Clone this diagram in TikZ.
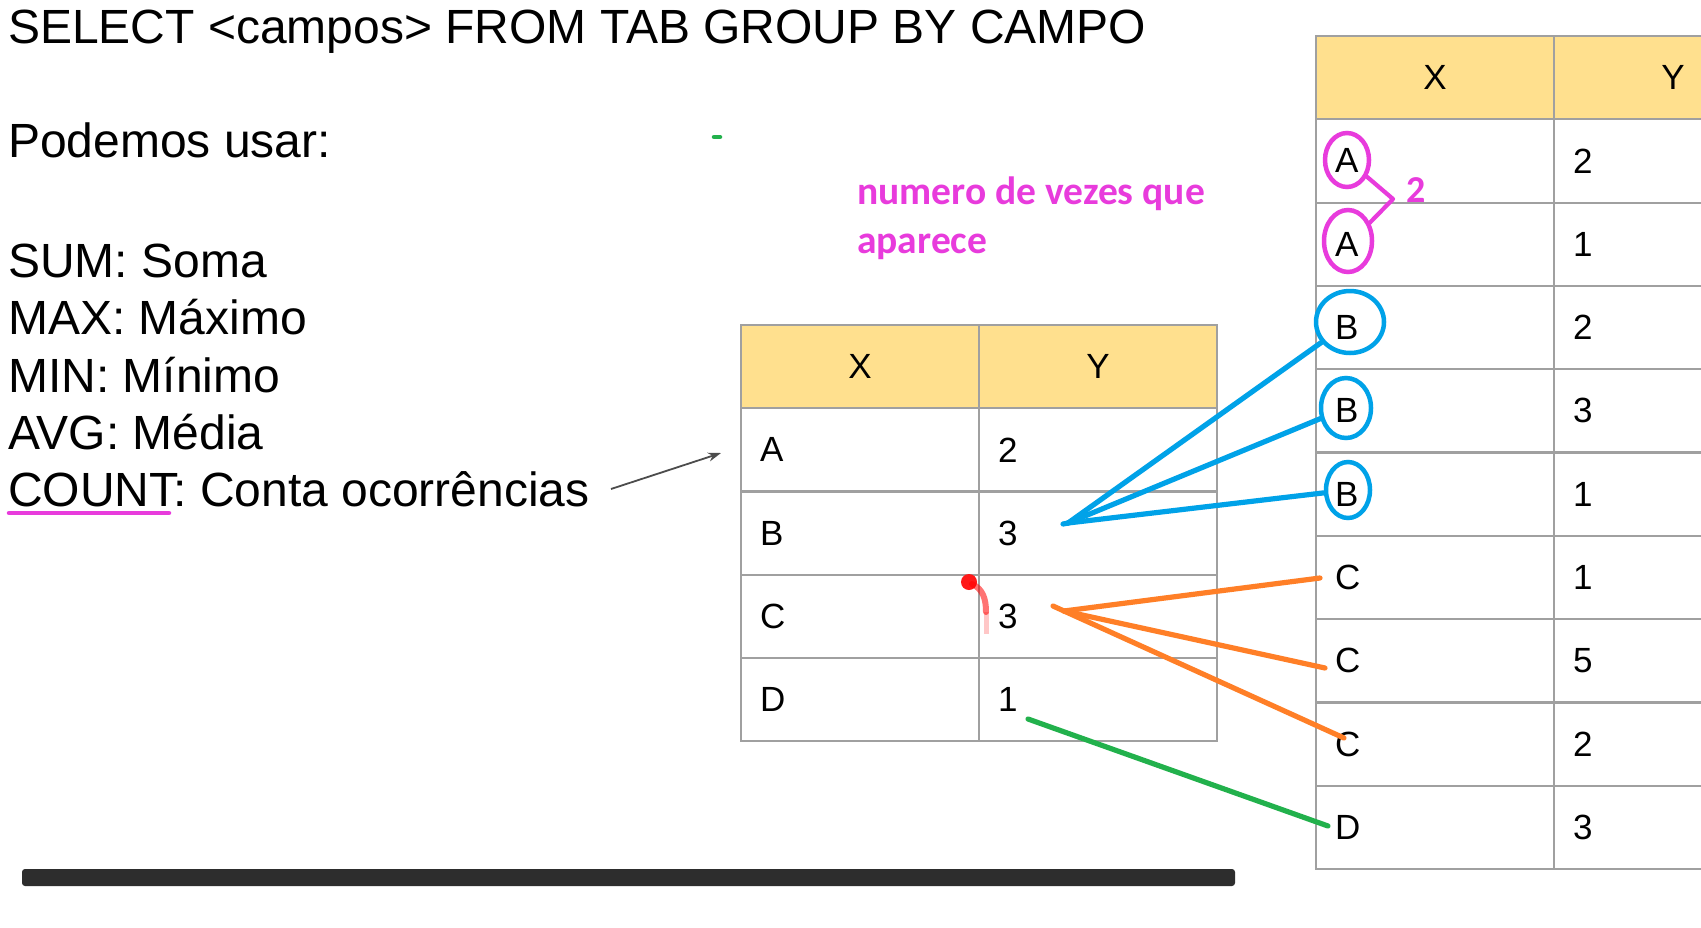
\documentclass[tikz,border=0pt]{standalone}
\usepackage{fontspec}
\setmainfont{Liberation Sans}
\newfontfamily\handfont{Carlito}
\usetikzlibrary{shapes.geometric,arrows.meta}

\definecolor{hdr}{HTML}{FFE08E}
\definecolor{gridgray}{HTML}{A0A0A0}
\definecolor{pblue}{HTML}{00A2E8}
\definecolor{porange}{HTML}{FF7F27}
\definecolor{pgreen}{HTML}{22B14C}
\definecolor{ppink}{HTML}{E83BDC}
\definecolor{barfill}{HTML}{2D2D2D}

\begin{document}
\begin{tikzpicture}[x=1pt,y=-1pt,
  bigtext/.style={anchor=base west, inner sep=0, font=\fontsize{48}{57}\selectfont},
  celltext/.style={anchor=west, inner sep=0, font=\fontsize{35}{40}\selectfont},
  headtext/.style={inner sep=0, font=\fontsize{35}{40}\selectfont},
  notetext/.style={anchor=base west, inner sep=0, text=ppink, font=\handfont\bfseries\fontsize{39.5}{46}\selectfont},
  gridline/.style={draw=gridgray, line width=2.2, line cap=rect},
  penline/.style={line width=5.2, line cap=round, line join=round},
  ring/.style={ellipse, draw, line width=4.5, inner sep=0},
]
\clip (0,0) rectangle (1701,927);
\fill[white] (0,0) rectangle (1701,927);

% query and list of aggregate functions
\node[bigtext] (title) at (8,43) {SELECT <campos> FROM TAB GROUP BY CAMPO};
\node[bigtext] (intro) at (8,157) {Podemos usar:};
\node[bigtext] (sum) at (8,277) {SUM: Soma};
\node[bigtext] (max) at (8,334.5) {MAX: Máximo};
\node[bigtext] (min) at (8,392) {MIN: Mínimo};
\node[bigtext] (avg) at (8,449.5) {AVG: Média};
\node[bigtext] (count) at (8,506) {COUNT: Conta ocorrências};
\draw[ppink, line width=4.5, line cap=round] (9,513) -- (169,513);

% arrow towards the grouped table
\coordinate (arrTail) at (611,489);
\coordinate (arrHead) at (721,453);
\draw[draw=black!70, line width=1.8, -{Stealth[length=13,width=9]}] (arrTail) -- (arrHead);

% grouped table
\fill[hdr] (741,325) rectangle (1217,408.2);
\foreach \k in {0,...,5} \draw[gridline] (741,325+83.2*\k) -- (1217,325+83.2*\k);
\foreach \x in {741,979,1217} \draw[gridline] (\x,325) -- (\x,741);
\node[headtext] (lX) at (860,366.6) {X};
\node[headtext] (lY) at (1098,366.6) {Y};
\foreach \k/\a/\b in {1/A/2,2/B/3,3/C/3,4/D/1} {
  \node[celltext] (l\k) at (760,366.6+83.2*\k) {\a};
  \node[celltext] (lv\k) at (998,366.6+83.2*\k) {\b};
}

% source table
\fill[hdr] (1316,36) rectangle (1800,119.3);
\foreach \k in {0,...,10} \draw[gridline] (1316,36+83.3*\k) -- (1800,36+83.3*\k);
\foreach \x in {1316,1554,1792} \draw[gridline] (\x,36) -- (\x,869);
\node[headtext] (rX) at (1435,77.6) {X};
\node[headtext] (rY) at (1673,77.6) {Y};
\foreach \k/\a/\b in {1/A/2,2/A/1,3/B/2,4/B/3,5/B/1,6/C/1,7/C/5,8/C/2,9/D/3} {
  \node[celltext] (r\k) at (1335,77.6+83.3*\k) {\a};
  \node[celltext] (rv\k) at (1573,77.6+83.3*\k) {\b};
}

% annotation
\node[notetext] (note1) at (857,204) {numero de vezes que};
\node[notetext] (note2) at (857,253) {aparece};

% pink marks on the A rows
\node[ring, draw=ppink, minimum width=44, minimum height=54] (eA1) at (1347,160) {};
\node[ring, draw=ppink, minimum width=48, minimum height=62] (eA2) at (1348,241) {};
\coordinate (brk) at (1393,199);
\draw[penline, ppink, line width=4.2] (eA1.-40) -- (brk) -- (eA2.40);
\node[inner sep=0, text=ppink, font=\handfont\bfseries\fontsize{38}{40}\selectfont] (cnt) at (1416,190) {2};

% blue marks on the B rows
\node[ring, draw=pblue, minimum width=68, minimum height=62] (eB1) at (1350,322) {};
\node[ring, draw=pblue, minimum width=50, minimum height=60] (eB2) at (1346,408) {};
\node[ring, draw=pblue, minimum width=44, minimum height=56] (eB3) at (1348,490) {};
\coordinate (bHub) at (1068,523);
\coordinate (bTail) at (1063,524);
\draw[penline, pblue] (bTail) -- (bHub);
\draw[penline, pblue] (bHub) -- (eB1);
\draw[penline, pblue] (bHub) -- (eB2);
\draw[penline, pblue] (bHub) -- (eB3);

% orange marks on the C rows
\coordinate (oTail) at (1053,606);
\coordinate (oHub) at (1064,611);
\coordinate (oC1) at (1320,578);
\coordinate (oC2) at (1325,668);
\coordinate (oC3) at (1344,738);
\draw[penline, porange] (oTail) -- (oHub);
\draw[penline, porange] (oHub) -- (oC1);
\draw[penline, porange] (oHub) -- (oC2);
\draw[penline, porange] (oHub) -- (oC3);

% green mark on the D row
\coordinate (gStart) at (1028,719);
\coordinate (gEnd) at (1328,826);
\draw[penline, pgreen] (gStart) -- (gEnd);
\coordinate (gDot) at (717,137);
\draw[pgreen, line width=4.5, line cap=round] ([xshift=-3]gDot) -- ([xshift=3]gDot);

% red pen stroke
\fill[red!90!white] (969,582) circle (8);
\draw[red, opacity=0.55, line width=6, line cap=round] (972,584) .. controls (983,589) and (986,599) .. (986,612);
\draw[red, opacity=0.22, line width=5] (986,612) -- (986,634);

% toolbar strip
\fill[barfill, rounded corners=3] (22,869) rectangle (1235,886);
\end{tikzpicture}
\end{document}
